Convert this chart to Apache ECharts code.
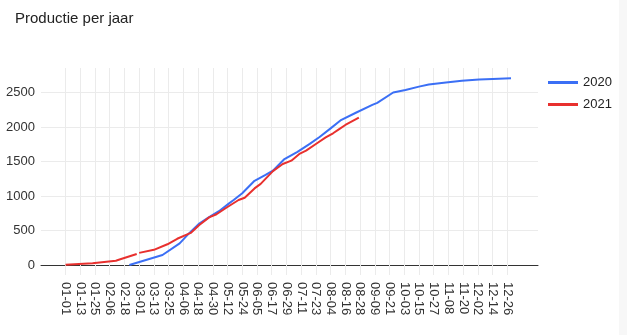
<!DOCTYPE html>
<html>
<head>
<meta charset="utf-8">
<script src="https://cdn.jsdelivr.net/npm/echarts@6/dist/echarts.min.js"></script>
<style>
  html, body { margin: 0; padding: 0; background: #fff; }
  #chart { width: 627px; height: 335px; }
  #edge { position: absolute; left: 619px; top: 0; width: 8px; height: 335px; background: #f7f7f7; }
</style>
</head>
<body>
<div id="chart"></div>
<div id="edge"></div>
<script>
const tickLabels = ['01-01','01-13','01-25','02-06','02-18','03-01','03-13','03-25','04-06','04-18','04-30',
  '05-12','05-24','06-05','06-17','06-29','07-11','07-23','08-04','08-16','08-28','09-09','09-21',
  '10-03','10-15','10-27','11-08','11-20','12-02','12-14','12-26'];
const yTicks = [0, 500, 1000, 1500, 2000, 2500];

const dates2020 = ['02-22','03-20','04-03','04-11','04-19','04-27','05-05','05-13','05-17','05-24','06-03','06-12',
  '06-18','06-27','07-08','07-18','07-26','08-04','08-12','08-25','09-07','09-11','09-24','10-04','10-15',
  '10-23','11-06','11-19','12-03','12-14','12-29'];
const values2020 = [0, 145, 314, 465, 600, 695, 780, 890, 942, 1039, 1220, 1305,
  1367, 1530, 1640, 1755, 1855, 1980, 2095, 2210, 2320, 2350, 2500, 2535, 2585,
  2615, 2645, 2670, 2688, 2697, 2707];

const dates2021 = ['01-01','01-23','02-11','02-14','02-28','02-29','03-01','03-13','03-24','04-01','04-12','04-19',
  '04-27','05-03','05-11','05-21','05-26','06-03','06-08','06-18','06-26','07-03','07-10','07-15','07-23',
  '07-31','08-06','08-11','08-16','08-27'];
const values2021 = [5, 25, 62, 80, 160, null, 176, 220, 300, 380, 465, 580,
  690, 735, 830, 942, 975, 1110, 1175, 1360, 1464, 1512, 1615, 1657, 1754,
  1850, 1909, 1970, 2029, 2135];

const base = Date.UTC(2020, 0, 1);
function dayIndex(s) {
  const p = s.split('-');
  return Math.round((Date.UTC(2020, +p[0] - 1, +p[1]) - base) / 86400000);
}
function dayLabel(v) {
  const d = new Date(base + v * 86400000);
  const m = String(d.getUTCMonth() + 1).padStart(2, '0');
  const dd = String(d.getUTCDate()).padStart(2, '0');
  return m + '-' + dd;
}
const xTickValues = tickLabels.map(dayIndex);
const pairs = (ds, vs) => ds.map((d, i) => [dayIndex(d), vs[i]]);

const font = 'Liberation Sans, Arial, sans-serif';
const chart = echarts.init(document.getElementById('chart'), null, { renderer: 'canvas' });
chart.setOption({
  animation: false,
  title: {
    text: 'Productie per jaar',
    left: 10, top: 6,
    textStyle: { fontFamily: font, fontSize: 15, fontWeight: 'normal', color: '#222' }
  },
  legend: {
    orient: 'vertical',
    left: 543, top: 71,
    icon: 'rect',
    itemWidth: 30, itemHeight: 3, itemGap: 9,
    textStyle: { fontFamily: font, fontSize: 13, color: '#222', padding: [0, 0, 0, 0] },
    data: ['2020', '2021']
  },
  grid: { left: 41, right: 89, top: 68, bottom: 70, containLabel: false },
  xAxis: {
    type: 'value',
    min: -20, max: 385,
    axisLine: { show: true, lineStyle: { color: '#333', width: 1 } },
    axisTick: { show: true, length: 10, customValues: xTickValues, lineStyle: { color: '#ebebeb' } },
    axisLabel: {
      customValues: xTickValues,
      rotate: -90, margin: 17,
      formatter: v => dayLabel(v),
      fontFamily: font, fontSize: 13, color: '#333'
    },
    splitLine: { show: true, lineStyle: { color: '#ebebeb', width: 1 } }
  },
  yAxis: {
    type: 'value',
    min: 0, max: 2855,
    axisLine: { show: false },
    axisTick: { show: false, customValues: yTicks },
    axisLabel: { customValues: yTicks, margin: 6, formatter: v => String(v), fontFamily: font, fontSize: 13, color: '#333' },
    splitLine: { show: true, lineStyle: { color: '#ebebeb', width: 1 } }
  },
  series: [
    {
      name: '2020', type: 'line', symbol: 'none', showSymbol: false,
      data: pairs(dates2020, values2020),
      lineStyle: { color: '#3b6ff5', width: 2 }, itemStyle: { color: '#3b6ff5' }
    },
    {
      name: '2021', type: 'line', symbol: 'none', showSymbol: false, connectNulls: false,
      data: pairs(dates2021, values2021),
      lineStyle: { color: '#e8302e', width: 2 }, itemStyle: { color: '#e8302e' }
    }
  ]
});
</script>
</body>
</html>
